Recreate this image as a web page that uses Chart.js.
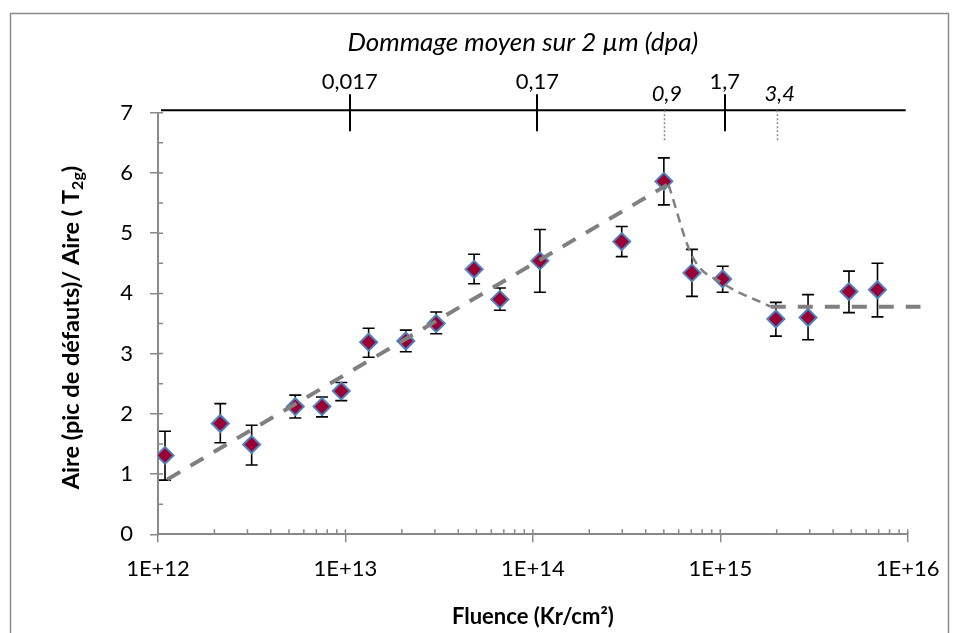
<!DOCTYPE html>
<html><head><meta charset="utf-8">
<script src="https://cdn.jsdelivr.net/npm/chart.js@4.4.1/dist/chart.umd.min.js"></script>
<style>html,body{margin:0;padding:0;background:#fff}#c{display:block}</style>
</head><body>
<canvas id="c" width="960" height="633"></canvas>
<script>
// ---- data ----
const fluence = [1.09e12, 2.15e12, 3.16e12, 5.4e12, 7.5e12, 9.5e12, 1.33e13, 2.1e13, 3.05e13, 4.86e13, 6.67e13, 1.09e14, 2.98e14, 5.0e14, 7.06e14, 1.03e15, 1.98e15, 2.94e15, 4.86e15, 6.9e15];
const ratio     = [1.31, 1.84, 1.49, 2.12, 2.12, 2.38, 3.19, 3.21, 3.50, 4.40, 3.90, 4.54, 4.86, 5.86, 4.34, 4.24, 3.575, 3.60, 4.03, 4.06];
const ratioLow  = [0.90, 1.52, 1.15, 1.93, 1.95, 2.22, 2.94, 3.03, 3.33, 4.16, 3.72, 4.02, 4.61, 5.47, 3.95, 4.02, 3.29, 3.23, 3.68, 3.61];
const ratioHigh = [1.71, 2.17, 1.81, 2.31, 2.28, 2.52, 3.42, 3.39, 3.69, 4.65, 4.09, 5.06, 5.11, 6.25, 4.73, 4.45, 3.85, 3.98, 4.37, 4.50];
const riseFitX = [1.12e12, 5.2e14];
const riseFitY = [0.91, 5.80];
const decayFitX = [5.3e14, 7.1e14, 1.03e15, 1.86e15];
const decayFitY = [5.80, 4.61, 4.17, 3.78];
const plateauX = [1.86e15, 1.17e16];
const plateauY = [3.78, 3.78];
const xTickValues = [1e12, 1e13, 1e14, 1e15, 1e16];
const yTickValues = [0, 1, 2, 3, 4, 5, 6, 7];
const dpaTickValues = [0.017, 0.17, 1.7];
const dpaPerFluence = 1.61e-15;
const dpaMarkFluence = [5e14, 2e15];
const dpaMarkLabels = ['0,9', '3,4'];
const xTitle = 'Fluence (Kr/cm²)';
const topTitle = 'Dommage moyen sur 2 µm (dpa)';
const yTitleParts = ['Aire (pic de défauts)/ Aire ( T', '2g', ')'];

const pts = (xs, ys) => xs.map((v, i) => ({x: v, y: ys[i]}));
const AXIS = '#898989';
const FONT = 'Lato';

const deco = {
  id: 'deco',
  beforeDraw(chart) {
    const ctx = chart.ctx;
    ctx.save();
    ctx.fillStyle = '#fff';
    ctx.fillRect(0, 0, chart.width, chart.height);
    ctx.strokeStyle = '#8c8c8c';
    ctx.lineWidth = 1.5;
    ctx.strokeRect(10.5, 13.5, 938, 700);
    ctx.restore();
  },
  beforeDatasetsDraw(chart) {
    const {ctx, scales: {x, y}} = chart;
    ctx.save();
    ctx.strokeStyle = '#000';
    ctx.lineWidth = 1.6;
    fluence.forEach((f, i) => {
      const px = x.getPixelForValue(f);
      const pl = y.getPixelForValue(ratioLow[i]);
      const ph = y.getPixelForValue(ratioHigh[i]);
      ctx.beginPath();
      ctx.moveTo(px, pl); ctx.lineTo(px, ph);
      ctx.moveTo(px - 6, pl); ctx.lineTo(px + 6, pl);
      ctx.moveTo(px - 6, ph); ctx.lineTo(px + 6, ph);
      ctx.stroke();
    });
    ctx.restore();
  },
  afterDraw(chart) {
    const {ctx, chartArea: a, scales: {x, y, x2}} = chart;
    ctx.save();
    // inner parts of major ticks + minor ticks
    ctx.strokeStyle = AXIS;
    ctx.lineWidth = 1.5;
    ctx.beginPath();
    xTickValues.forEach(v => { const px = x.getPixelForValue(v); ctx.moveTo(px, a.bottom); ctx.lineTo(px, a.bottom - 5); });
    for (let d = 0; d < xTickValues.length - 1; d++) {
      for (let m = 2; m <= 9; m++) {
        const px = x.getPixelForValue(m * xTickValues[d]);
        ctx.moveTo(px, a.bottom); ctx.lineTo(px, a.bottom - 5);
      }
    }
    yTickValues.forEach(v => { const py = y.getPixelForValue(v); ctx.moveTo(a.left, py); ctx.lineTo(a.left + 5, py); });
    for (let i = 0; i < yTickValues.length - 1; i++) {
      const py = y.getPixelForValue((yTickValues[i] + yTickValues[i + 1]) / 2);
      ctx.moveTo(a.left, py); ctx.lineTo(a.left + 5, py);
    }
    ctx.stroke();

    // secondary (dpa) axis line and ticks
    const lineY = a.top - 2.5;
    ctx.strokeStyle = '#000';
    ctx.lineWidth = 2;
    ctx.beginPath();
    ctx.moveTo(a.left + 3, lineY); ctx.lineTo(a.right - 2, lineY);
    dpaTickValues.forEach(v => {
      const px = Math.round(x2.getPixelForValue(v));
      ctx.moveTo(px, lineY - 16); ctx.lineTo(px, lineY + 21);
    });
    ctx.stroke();

    // dotted markers 0,9 and 3,4
    ctx.strokeStyle = '#8a8a8a';
    ctx.lineWidth = 1.5;
    ctx.setLineDash([2, 2]);
    ctx.beginPath();
    dpaMarkFluence.forEach(f => {
      const px = Math.round(x.getPixelForValue(f)) + 0.5;
      ctx.moveTo(px, lineY); ctx.lineTo(px, lineY + 32);
    });
    ctx.stroke();
    ctx.setLineDash([]);
    ctx.fillStyle = '#000';
    ctx.font = 'italic 22px ' + FONT;
    ctx.textAlign = 'center';
    ctx.textBaseline = 'alphabetic';
    dpaMarkFluence.forEach((f, i) => {
      ctx.fillText(dpaMarkLabels[i], x.getPixelForValue(f) + 3, lineY - 9);
    });

    // top title
    ctx.font = 'italic 26px ' + FONT;
    ctx.fillText(topTitle, (a.left + a.right) / 2 - 10, 51);

    // y title with subscript
    ctx.translate(79, (a.top + a.bottom) / 2 + 4);
    ctx.rotate(-Math.PI / 2);
    const fMain = 'bold 23.5px ' + FONT, fSub = 'bold 16px ' + FONT;
    ctx.font = fMain;
    const w1 = ctx.measureText(yTitleParts[0]).width, w3 = ctx.measureText(yTitleParts[2]).width;
    ctx.font = fSub;
    const w2 = ctx.measureText(yTitleParts[1]).width;
    let sx = -(w1 + w2 + w3) / 2;
    ctx.textAlign = 'left';
    ctx.font = fMain; ctx.fillText(yTitleParts[0], sx, 0); sx += w1;
    ctx.font = fSub; ctx.fillText(yTitleParts[1], sx, 4); sx += w2;
    ctx.font = fMain; ctx.fillText(yTitleParts[2], sx, 0);
    ctx.restore();
  }
};

new Chart(document.getElementById('c'), {
  type: 'scatter',
  data: {
    datasets: [
      {
        label: 'Aire',
        data: pts(fluence, ratio),
        showLine: false,
        pointStyle: 'rectRot',
        pointRadius: 8.5,
        pointBackgroundColor: '#990033',
        pointBorderColor: '#4F81BD',
        pointBorderWidth: 2,
        order: 2
      },
      {
        label: 'fit',
        data: pts(riseFitX, riseFitY),
        showLine: true,
        borderColor: '#808080',
        borderWidth: 4,
        borderDash: [15, 12],
        pointRadius: 0,
        order: 1
      },
      {
        label: 'decay',
        data: pts(decayFitX, decayFitY),
        showLine: true,
        borderColor: '#808080',
        borderWidth: 2.5,
        borderDash: [9, 6],
        cubicInterpolationMode: 'monotone',
        pointRadius: 0,
        order: 1
      },
      {
        label: 'plateau',
        data: pts(plateauX, plateauY),
        showLine: true,
        borderColor: '#808080',
        borderWidth: 4,
        borderDash: [15, 12],
        pointRadius: 0,
        clip: false,
        order: 1
      }
    ]
  },
  options: {
    responsive: false,
    devicePixelRatio: 1,
    animation: false,
    layout: {padding: {top: 0, left: 0, right: 52.3, bottom: 0}},
    plugins: {legend: {display: false}, tooltip: {enabled: false}},
    scales: {
      x: {
        type: 'logarithmic',
        position: 'bottom',
        min: xTickValues[0],
        max: xTickValues[xTickValues.length - 1],
        afterBuildTicks: s => { s.ticks = xTickValues.map(v => ({value: v, major: true})); },
        afterFit: s => { s.height = 98.7; },
        ticks: {
          autoSkip: false, maxRotation: 0, padding: 13, color: '#000',
          font: {family: FONT, size: 22},
          callback: v => '1E+' + Math.round(Math.log10(v))
        },
        grid: {drawOnChartArea: false, drawTicks: true, tickLength: 8, color: AXIS, lineWidth: 1.5},
        border: {display: true, color: AXIS, width: 2},
        title: {display: true, text: xTitle, color: '#000', font: {family: FONT, size: 22, weight: 'bold'}, padding: {top: 0, bottom: 3}}
      },
      x2: {
        type: 'logarithmic',
        position: 'top',
        min: xTickValues[0] * dpaPerFluence,
        max: xTickValues[xTickValues.length - 1] * dpaPerFluence,
        afterBuildTicks: s => { s.ticks = dpaTickValues.map(v => ({value: v})); },
        afterFit: s => { s.height = 112.7; },
        ticks: {
          autoSkip: false, maxRotation: 0, padding: 18, color: '#000',
          font: {family: FONT, size: 22},
          callback: v => String(v).replace('.', ',')
        },
        grid: {display: false, drawTicks: false},
        border: {display: false}
      },
      y: {
        type: 'linear',
        min: yTickValues[0],
        max: yTickValues[yTickValues.length - 1],
        afterBuildTicks: s => { s.ticks = yTickValues.map(v => ({value: v})); },
        afterFit: s => { s.width = 158; },
        ticks: {padding: 17, color: '#000', font: {family: FONT, size: 22}},
        grid: {drawOnChartArea: false, drawTicks: true, tickLength: 8, color: AXIS, lineWidth: 1.5},
        border: {display: true, color: AXIS, width: 2}
      }
    }
  },
  plugins: [deco]
});
</script>
</body></html>
